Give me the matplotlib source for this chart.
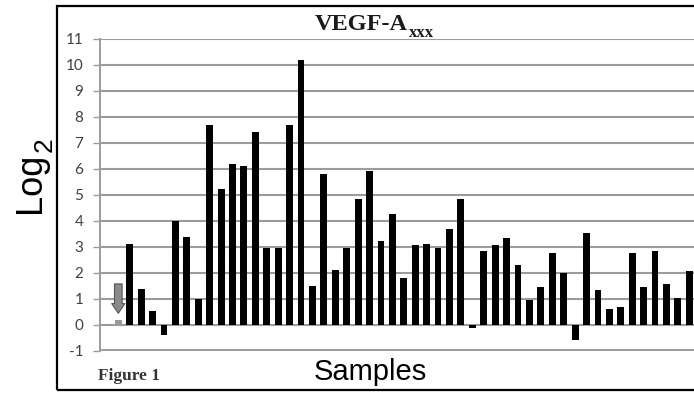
import matplotlib
matplotlib.use('Agg')
import matplotlib.pyplot as plt
from matplotlib.patches import Rectangle

# values (log2 per sample)
sample_values = [0.2, 3.1, 1.38, 0.55, -0.38, 4.0, 3.4, 1.0, 7.7, 5.25,
                 6.18, 6.12, 7.42, 2.95, 2.95, 7.7, 10.2, 1.5, 5.8, 2.1,
                 2.97, 4.83, 5.92, 3.23, 4.26, 1.79, 3.06, 3.13, 2.95, 3.68,
                 4.83, -0.12, 2.85, 3.08, 3.36, 2.31, 0.96, 1.47, 2.78, 1.99,
                 -0.58, 3.53, 1.35, 0.62, 0.68, 2.76, 1.47, 2.85, 1.58, 1.05,
                 2.08]
highlight_index = 0          # grey bar marked with the arrow
y_ticks = list(range(-1, 12))

W, H = 694, 396
fig = plt.figure(figsize=(W / 100, H / 100), dpi=100)


def fx(px):
    return px / W


def fy(py):
    return 1 - py / H


# plot area: x from 100px to right edge, y from 39px (11) to 351px (-1)
ax = fig.add_axes([fx(100), fy(351), 1 - fx(100), fy(39) - fy(351)])

step = 11.42
x = list(range(len(sample_values)))
colors = ['#9a9a9a' if i == highlight_index else 'black' for i in x]
ax.bar(x, sample_values, width=0.6, color=colors, zorder=3)

ax.set_xlim((100 - 118.3) / step, (694 - 118.3) / step)
ax.set_ylim(-1, 11)
ax.set_yticks(y_ticks)
ax.set_yticklabels([str(v) for v in y_ticks], fontsize=11,
                   color='#404040', family=['Lato', 'DejaVu Sans'])
ax.set_xticks([])

for v in y_ticks:
    lw = 2.8 if v == -1 else 1.5
    ax.axhline(v, color='#9c9c9c', lw=lw, zorder=1)

for s in ['top', 'right', 'bottom']:
    ax.spines[s].set_visible(False)
ax.spines['left'].set_color('#9c9c9c')
ax.spines['left'].set_linewidth(1.4)
ax.tick_params(axis='y', length=5, width=1, color='#9c9c9c', pad=7)

# arrow pointing at the grey bar
ax.annotate('', xy=(highlight_index, 0.45), xytext=(highlight_index, 1.58),
            arrowprops=dict(arrowstyle='simple,head_length=0.7,head_width=0.95,tail_width=0.55',
                            fc='#8a8a8a', ec='#555555', lw=0.8,
                            shrinkA=0, shrinkB=0, mutation_scale=10),
            zorder=4)

# outer black frame
fig.patches.append(Rectangle((fx(57), fy(390)), 1.2, fy(6) - fy(390),
                             transform=fig.transFigure, fill=False,
                             ec='black', lw=1.6, clip_on=False))

renderer = fig.canvas.get_renderer()

# title VEGF-A with subscript xxx
t1 = fig.text(fx(315), fy(30), 'VEGF-A', family='Liberation Serif',
              weight='bold', fontsize=17.5, color='#1a1a1a',
              ha='left', va='baseline')
bb = t1.get_window_extent(renderer=renderer)
fig.text(bb.x1 / W + fx(0.5), fy(37), 'xxx', family='Liberation Serif',
         weight='bold', fontsize=12, color='#1a1a1a',
         ha='left', va='baseline')

# y label Log2
t2 = fig.text(fx(40), fy(213), 'Log', family='Liberation Sans', fontsize=26,
              rotation=90, rotation_mode='anchor', ha='left', va='baseline')
bb2 = t2.get_window_extent(renderer=renderer)
fig.text(fx(52), (bb2.y1 + 1) / H, '2', family='Liberation Sans', fontsize=19,
         rotation=90, rotation_mode='anchor', ha='left', va='baseline')

# x label
fig.text(fx(370), fy(380), 'Samples', family='Liberation Sans', fontsize=21,
         ha='center', va='baseline')

fig.text(fx(98), fy(380), 'Figure 1', family='Liberation Serif', weight='bold',
         fontsize=12.5, color='#333333', ha='left', va='baseline')

fig.savefig('out.png', dpi=100)
